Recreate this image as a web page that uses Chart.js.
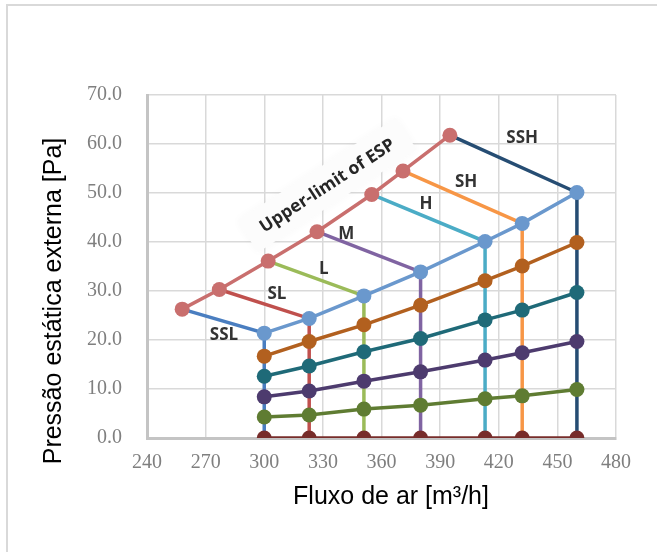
<!DOCTYPE html>
<html>
<head>
<meta charset="utf-8">
<script src="https://cdn.jsdelivr.net/npm/chart.js@4.4.1/dist/chart.umd.min.js"></script>
<style>
  html, body { margin: 0; padding: 0; background: #fff; }
  #wrap { position: relative; width: 657px; height: 552px; }
  #frame { position: absolute; left: 6px; top: 4px; right: -4px; bottom: -4px; border-left: 2px solid #d9d9d9; border-top: 2px solid #d9d9d9; }
  canvas { position: absolute; left: 0; top: 0; }
</style>
</head>
<body>
<div id="wrap">
  <div id="frame"></div>
  <canvas id="espChart" width="657" height="552"></canvas>
</div>
<script>
// fan speed names
const speeds = ['SSL', 'SL', 'L', 'M', 'H', 'SH', 'SSH'];

// upper limit of ESP (start of each fan speed curve)
const limitFlow = [258, 277, 302, 327, 355, 371, 395];
const limitEsp = [26.3, 30.3, 36.1, 42.1, 49.7, 54.5, 61.8];

// operating airflow for each speed, and ESP curves at those flows
const airflow = [300, 323, 351, 380, 413, 432, 460];
const espTop = [21.4, 24.4, 29.0, 33.9, 40.1, 43.8, 50.1];
const esp4 = [16.7, 19.7, 23.1, 27.1, 32.1, 35.1, 39.9];
const esp3 = [12.6, 14.7, 17.6, 20.3, 24.1, 26.1, 29.7];
const esp2 = [8.4, 9.6, 11.6, 13.5, 15.9, 17.4, 19.7];
const esp1 = [4.3, 4.7, 5.9, 6.7, 8.0, 8.6, 9.9];
const esp0 = [0, 0, 0, 0, 0, 0, 0];

// label anchors (data coords)
const labelFlow = [279.4, 306.5, 330.5, 342, 382.8, 403.3, 432];
const labelEsp = [21.0, 29.4, 34.5, 41.6, 47.8, 52.2, 61.2];
const limitLabel = 'Upper-limit of ESP';
const limitLabelAt = [332.1, 51.6];

const xTicks = [240, 270, 300, 330, 360, 390, 420, 450, 480];
const yTicks = [0, 10, 20, 30, 40, 50, 60, 70];

const speedColors = ['#4a7ec0', '#c0504d', '#9bbb59', '#8064a2', '#4bacc6', '#f79646', '#264d73'];

function pts(xs, ys) {
    return xs.map((x, i) => ({ x: x, y: ys[i] }));
}

const datasets = [];

// fan speed curves: limit point -> top point -> down to zero
speeds.forEach((name, i) => {
    datasets.push({
        label: name,
        data: [
            { x: limitFlow[i], y: limitEsp[i] },
            { x: airflow[i], y: espTop[i] },
            { x: airflow[i], y: esp0[i] }
        ],
        borderColor: speedColors[i],
        borderWidth: 3.5,
        pointRadius: 0,
        showLine: true,
        order: 10
    });
});

function markerSet(label, ys, color, order) {
    return {
        label: label,
        data: pts(airflow, ys),
        borderColor: color,
        backgroundColor: color,
        borderWidth: 3.5,
        pointRadius: 7.5,
        pointBorderWidth: 0,
        showLine: true,
        order: order
    };
}

datasets.push(markerSet('e1', esp1, '#5f7c32', 6));
datasets.push(markerSet('e2', esp2, '#4d3b6e', 6));
datasets.push(markerSet('e3', esp3, '#1f6a78', 6));
datasets.push(markerSet('e4', esp4, '#b2601f', 6));
datasets.push(markerSet('e0', esp0, '#772c2a', 5));
datasets.push(markerSet('top', espTop, '#6a98cd', 2));
datasets.push({
    label: 'limit',
    data: pts(limitFlow, limitEsp),
    borderColor: '#c96f6e',
    backgroundColor: '#c96f6e',
    borderWidth: 3.5,
    pointRadius: 7.5,
    pointBorderWidth: 0,
    showLine: true,
    order: 1
});

const textPlugin = {
    id: 'texts',
    beforeDatasetsDraw(chart) {
        // rotated upper limit label on a soft white box, under the lines
        const ctx = chart.ctx;
        const xs = chart.scales.x, ys = chart.scales.y;
        ctx.save();
        ctx.translate(xs.getPixelForValue(limitLabelAt[0]), ys.getPixelForValue(limitLabelAt[1]));
        ctx.rotate(-33 * Math.PI / 180);
        ctx.font = 'bold 17.5px "Open Sans"';
        ctx.textAlign = 'center';
        ctx.textBaseline = 'middle';
        const w = ctx.measureText(limitLabel).width;
        ctx.shadowColor = 'rgba(0,0,0,0.03)';
        ctx.shadowBlur = 8;
        ctx.fillStyle = '#fcfcfc';
        ctx.fillRect(-w / 2 - 16, -19, w + 32, 38);
        ctx.shadowColor = 'transparent';
        ctx.fillStyle = '#262626';
        ctx.fillText(limitLabel, 0, 1);
        ctx.restore();
    },
    afterDraw(chart) {
        const ctx = chart.ctx;
        const xs = chart.scales.x, ys = chart.scales.y;
        ctx.save();

        // speed labels
        ctx.fillStyle = '#333333';
        ctx.font = 'bold 17px "Open Sans"';
        ctx.textAlign = 'center';
        ctx.textBaseline = 'middle';
        speeds.forEach((name, i) => {
            ctx.fillText(name, xs.getPixelForValue(labelFlow[i]), ys.getPixelForValue(labelEsp[i]));
        });

        // axis titles
        ctx.fillStyle = '#000000';
        ctx.font = '25px "Liberation Sans"';
        ctx.fillText('Fluxo de ar [m³/h]', 391, 497);
        ctx.translate(54, 301);
        ctx.rotate(-Math.PI / 2);
        ctx.fillText('Pressão estática externa [Pa]', 0, 0);
        ctx.restore();
    }
};

new Chart(document.getElementById('espChart'), {
    type: 'scatter',
    data: { datasets: datasets },
    options: {
        responsive: false,
        animation: false,
        layout: { padding: { left: 0, top: 95, right: 41, bottom: 0 } },
        plugins: {
            legend: { display: false },
            tooltip: { enabled: false }
        },
        scales: {
            x: {
                type: 'linear',
                min: xTicks[0],
                max: xTicks[xTicks.length - 1],
                afterBuildTicks: s => { s.ticks = xTicks.map(v => ({ value: v })); },
                afterFit: s => { s.height = 114; },
                ticks: {
                    color: '#7f7f7f',
                    font: { family: 'Liberation Serif', size: 20 },
                    padding: 13
                },
                grid: { color: '#d9d9d9', lineWidth: 1.5, drawTicks: false },
                border: { color: '#c4c4c4', width: 3 }
            },
            y: {
                type: 'linear',
                min: yTicks[0],
                max: yTicks[yTicks.length - 1],
                afterBuildTicks: s => { s.ticks = yTicks.map(v => ({ value: v })); },
                afterFit: s => { s.width = 147; },
                ticks: {
                    color: '#7f7f7f',
                    font: { family: 'Liberation Serif', size: 20 },
                    padding: 25,
                    callback: v => v.toFixed(1)
                },
                grid: { color: '#d9d9d9', lineWidth: 1.5, drawTicks: false },
                border: { color: '#c4c4c4', width: 3 }
            }
        }
    },
    plugins: [textPlugin]
});
</script>
</body>
</html>
